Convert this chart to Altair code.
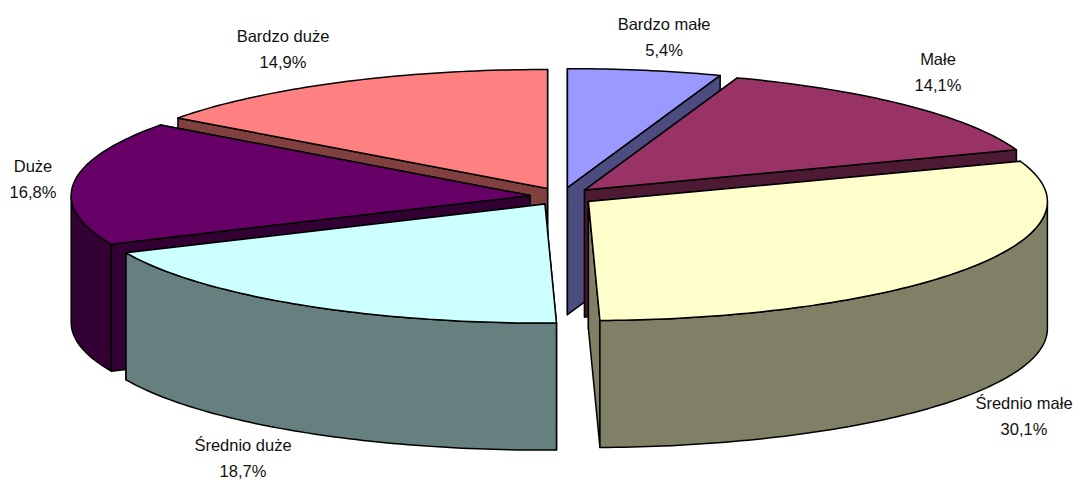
import math
import altair as alt
import pandas as pd

categories = ["Bardzo małe", "Małe", "Średnio małe", "Średnio duże", "Duże", "Bardzo duże"]
values = [5.4, 14.1, 30.1, 18.7, 16.8, 14.9]
top_colors = ["#9999FF", "#993366", "#FFFFCC", "#CCFFFF", "#660066", "#FF8080"]
side_colors = ["#4C4C80", "#4D1933", "#808066", "#668080", "#330033", "#804040"]
draw_order = [0, 5, 1, 4, 2, 3]
label_first_line = [(664, 25), (938, 60), (1024, 404), (243, 446), (33, 167), (283, 37)]

W, H = 1066, 471
M = 8
CX, CY = 562 - M, 196.5 - M
A, B = 459, 119
DEPTH = 127
EX, EY = 32, 9


def pt(ax, ay, deg, dy=0):
    r = math.radians(deg)
    return [ax + A * math.sin(r), ay - B * math.cos(r) + dy]


def feature(coords, fill):
    ring = coords + [coords[0]]
    return {"type": "Feature", "properties": {"fill": fill},
            "geometry": {"type": "Polygon", "coordinates": [ring]}}


total = sum(values)
spans = []
acc = 0.0
for v in values:
    spans.append((acc, acc + v / total * 360))
    acc += v / total * 360


def arc(ax, ay, a0, a1, dy=0):
    n = max(2, int(abs(a1 - a0)) + 1)
    return [pt(ax, ay, a0 + (a1 - a0) * i / n, dy) for i in range(n + 1)]


features = []
for i in draw_order:
    a0, a1 = spans[i]
    mid = math.radians((a0 + a1) / 2)
    ax, ay = CX + EX * math.sin(mid), CY - EY * math.cos(mid)
    # radial walls, the one lying further back first
    for ang in sorted((a0, a1), key=lambda d: -math.cos(math.radians(d))):
        features.append(feature([[ax, ay], pt(ax, ay, ang), pt(ax, ay, ang, DEPTH), [ax, ay + DEPTH]], side_colors[i]))
    # front-facing rim
    r0, r1 = max(a0, 90), min(a1, 270)
    if r1 > r0:
        features.append(feature(arc(ax, ay, r0, r1) + arc(ax, ay, r1, r0, DEPTH), side_colors[i]))
    # top face
    features.append(feature([[ax, ay]] + arc(ax, ay, a0, a1), top_colors[i]))

shapes = alt.Chart(alt.Data(values=features)).mark_geoshape(stroke="black", strokeWidth=1.5, strokeJoin="round").encode(
    fill=alt.Fill("properties.fill:N", scale=None)
).project(type="identity", scale=1, translate=[0, 0])

labels = pd.DataFrame({
    "t": [f"{c}\n{str(v).replace('.', ',')}%" for c, v in zip(categories, values)],
    "x": [p[0] - M for p in label_first_line],
    "y": [p[1] - M for p in label_first_line],
})
text = alt.Chart(labels).mark_text(lineBreak="\n", font="Liberation Sans", fontSize=16.5, lineHeight=25.5,
                                    color="#111111", align="center", baseline="middle").encode(
    x=alt.X("x:Q", scale=None), y=alt.Y("y:Q", scale=None), text="t:N")

chart = alt.layer(shapes, text).properties(
    width=W, height=H, padding=0, background="white",
    autosize=alt.AutoSizeParams(type="none")
).configure_view(stroke=None)
chart.save("out.html", embed_options={"renderer": "svg", "actions": False})
